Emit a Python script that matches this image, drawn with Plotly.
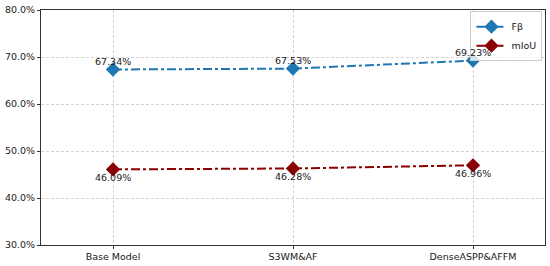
import plotly.graph_objects as go

models = ["Base Model", "S3WM&AF", "DenseASPP&AFFM"]
f_beta = [67.34, 67.53, 69.23]
miou = [46.09, 46.28, 46.96]
y_ticks = [30, 40, 50, 60, 70, 80]

FONT = "DejaVu Sans"
BLUE = "#1f77b4"
RED = "#8b0000"
TEXT = "#1a1a1a"

fig = go.Figure()

fig.add_trace(go.Scatter(
    x=models, y=f_beta, name="Fβ",
    mode="lines+markers",
    line=dict(color=BLUE, width=2, dash="dashdot"),
    marker=dict(symbol="diamond", size=11, color=BLUE),
))
fig.add_trace(go.Scatter(
    x=models, y=miou, name="mIoU",
    mode="lines+markers",
    line=dict(color=RED, width=2, dash="dashdot"),
    marker=dict(symbol="diamond", size=11, color=RED),
))

# value labels: above for F-beta, below for mIoU
for series, shift in ((f_beta, 8), (miou, -8)):
    for m, v in zip(models, series):
        fig.add_annotation(
            x=m, y=v, text=f"{v:.2f}%", showarrow=False,
            yshift=shift, yanchor="middle",
            font=dict(family=FONT, size=9.5, color=TEXT),
        )

axis_common = dict(
    showline=True, linecolor="#333333", linewidth=1, mirror=True,
    showgrid=True, gridcolor="#d3d3d3", griddash="3px,2px", gridwidth=1,
    ticks="outside", ticklen=3, tickcolor="#333333",
    tickfont=dict(family=FONT, size=9.5, color=TEXT),
    zeroline=False,
)

fig.update_layout(
    width=550, height=266,
    margin=dict(l=41, r=4, t=8, b=19),
    paper_bgcolor="white", plot_bgcolor="white",
    font=dict(family=FONT, size=9.5, color=TEXT),
    xaxis=dict(range=[-0.4, 2.4], **axis_common),
    yaxis=dict(range=[30, 80], tickvals=y_ticks,
               ticktext=[f"{v:.1f}%" for v in y_ticks], **axis_common),
    legend=dict(x=0.995, y=0.995, xanchor="right", yanchor="top",
                bordercolor="#cccccc", borderwidth=1, bgcolor="rgba(255,255,255,0.8)",
                itemwidth=30, tracegroupgap=0,
                font=dict(family=FONT, size=9.5)),
    showlegend=True,
)

fig.write_html("out.html", config={"displayModeBar": False},
               post_script="document.body.style.margin='0';")
